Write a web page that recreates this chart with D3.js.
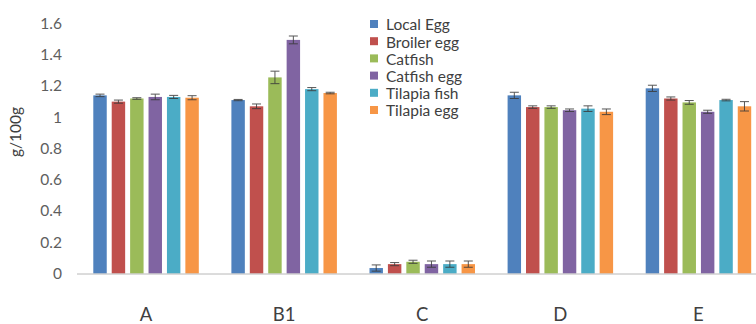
<!DOCTYPE html>
<html>
<head>
<meta charset="utf-8">
<script src="https://cdn.jsdelivr.net/npm/d3@7"></script>
<style>
  html, body { margin: 0; padding: 0; background: #fff; }
  svg { display: block; }
  text { font-family: Lato, "Open Sans", sans-serif; }
</style>
</head>
<body>
<svg id="chart" width="756" height="324"></svg>
<script>
// Groups along the x axis
const categories = ["A", "B1", "C", "D", "E"];
// Sample types (one bar per type in each group)
const seriesNames = ["Local Egg", "Broiler egg", "Catfish", "Catfish egg", "Tilapia fish", "Tilapia egg"];
const seriesColors = ["#4F81BD", "#C0504D", "#9BBB59", "#8064A2", "#4BACC6", "#F79646"];

// Mean values (g/100g), one array per sample type, ordered as categories
const localEgg    = [1.14, 1.11, 0.035, 1.14, 1.185];
const broilerEgg  = [1.10, 1.07, 0.06, 1.065, 1.12];
const catfish     = [1.12, 1.255, 0.075, 1.065, 1.095];
const catfishEgg  = [1.13, 1.495, 0.06, 1.045, 1.035];
const tilapiaFish = [1.13, 1.18, 0.06, 1.055, 1.11];
const tilapiaEgg  = [1.125, 1.155, 0.06, 1.035, 1.07];

// Error bar half-widths (g/100g)
const localEggErr    = [0.008, 0.004, 0.02, 0.02, 0.02];
const broilerEggErr  = [0.01, 0.015, 0.01, 0.008, 0.01];
const catfishErr     = [0.005, 0.04, 0.01, 0.008, 0.012];
const catfishEggErr  = [0.018, 0.025, 0.02, 0.008, 0.01];
const tilapiaFishErr = [0.01, 0.01, 0.02, 0.018, 0.005];
const tilapiaEggErr  = [0.013, 0.005, 0.02, 0.018, 0.03];

const yTicks = [0, 0.2, 0.4, 0.6, 0.8, 1, 1.2, 1.4, 1.6];
const yTitle = "g/100g";

const values = [localEgg, broilerEgg, catfish, catfishEgg, tilapiaFish, tilapiaEgg];
const errors = [localEggErr, broilerEggErr, catfishErr, catfishEggErr, tilapiaFishErr, tilapiaEggErr];

const svg = d3.select("#chart");

const y = d3.scaleLinear().domain([0, 1.6]).range([273.5, 23.5]);
const x0 = d3.scaleBand().domain(categories).range([77, 767.5]).paddingInner(0.2).paddingOuter(0.1);
const x1 = d3.scaleBand().domain(d3.range(seriesNames.length)).range([0, x0.bandwidth()]).paddingInner(0.27).paddingOuter(0.135);

// Y tick labels (no axis line, no tick marks)
const yAxis = d3.axisLeft(y).tickValues(yTicks).tickSize(0).tickPadding(0)
  .tickFormat(d => d3.format("~g")(d));
const yg = svg.append("g").attr("transform", "translate(62,0)").call(yAxis);
yg.select(".domain").remove();
yg.selectAll("text").attr("font-size", 15.5).attr("fill", "#5e5e5e")
  .style("font-family", "Lato, 'Open Sans', sans-serif");

// Y axis title
svg.append("text")
  .attr("transform", "translate(21,132) rotate(-90)")
  .attr("text-anchor", "middle")
  .attr("font-size", 15.5)
  .attr("fill", "#404040")
  .text(yTitle);

// Bars
const groups = svg.append("g").selectAll("g")
  .data(categories)
  .join("g")
  .attr("transform", d => `translate(${x0(d)},0)`);

groups.selectAll("rect")
  .data((c, ci) => values.map((s, si) => ({ si, v: s[ci], e: errors[si][ci] })))
  .join("rect")
  .attr("x", d => x1(d.si))
  .attr("width", x1.bandwidth())
  .attr("y", d => y(d.v))
  .attr("height", d => y(0) - y(d.v))
  .attr("fill", d => seriesColors[d.si]);

// Error bars
const capHalf = 4.5;
const eb = groups.selectAll("g.err")
  .data((c, ci) => values.map((s, si) => ({ si, v: s[ci], e: errors[si][ci] })))
  .join("g").attr("class", "err")
  .attr("stroke", "#3a3a3a").attr("stroke-width", 1).attr("opacity", 0.85);
eb.append("line")
  .attr("x1", d => x1(d.si) + x1.bandwidth() / 2)
  .attr("x2", d => x1(d.si) + x1.bandwidth() / 2)
  .attr("y1", d => y(d.v + d.e))
  .attr("y2", d => y(d.v - d.e));
eb.append("line")
  .attr("x1", d => x1(d.si) + x1.bandwidth() / 2 - capHalf)
  .attr("x2", d => x1(d.si) + x1.bandwidth() / 2 + capHalf)
  .attr("y1", d => y(d.v + d.e))
  .attr("y2", d => y(d.v + d.e));
eb.append("line")
  .attr("x1", d => x1(d.si) + x1.bandwidth() / 2 - capHalf)
  .attr("x2", d => x1(d.si) + x1.bandwidth() / 2 + capHalf)
  .attr("y1", d => y(d.v - d.e))
  .attr("y2", d => y(d.v - d.e));

// X axis baseline and category labels
const xAxis = d3.axisBottom(x0).tickSize(0).tickPadding(0);
const xg = svg.append("g").attr("transform", `translate(0,${y(0)})`).call(xAxis);
xg.select(".domain").remove();
xg.selectAll("text").attr("font-size", 18.5).attr("fill", "#404040")
  .attr("dy", null).attr("y", 47)
  .style("font-family", "Lato, 'Open Sans', sans-serif");
svg.append("line")
  .attr("x1", 77).attr("x2", 756)
  .attr("y1", y(0) + 0.5).attr("y2", y(0) + 0.5)
  .attr("stroke", "#b8b8b8").attr("stroke-width", 1);

// Legend
const legend = svg.append("g").attr("transform", "translate(370,25)");
const li = legend.selectAll("g").data(seriesNames).join("g")
  .attr("transform", (d, i) => `translate(0,${i * 17.2})`);
li.append("rect").attr("x", 0).attr("y", -5).attr("width", 8).attr("height", 8)
  .attr("fill", (d, i) => seriesColors[i]);
li.append("text").attr("x", 16).attr("y", 0).attr("dy", "0.35em")
  .attr("font-size", 15.5).attr("fill", "#404040").text(d => d);
</script>
</body>
</html>
